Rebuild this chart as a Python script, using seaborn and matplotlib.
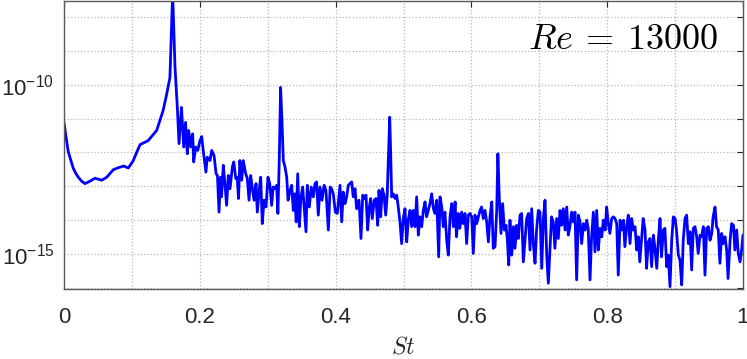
import numpy as np
import pandas as pd
import seaborn as sns
import matplotlib.pyplot as plt
from matplotlib.ticker import LogLocator, FuncFormatter, MultipleLocator, NullLocator

# Strouhal number and log10 of the spectrum
st = [
    0.0, 0.003, 0.0064, 0.0137, 0.0175, 0.021, 0.026, 0.031, 0.038, 0.0457, 0.0555, 0.063,
    0.0726, 0.080, 0.088, 0.0947, 0.102, 0.107, 0.112, 0.124, 0.1365, 0.146, 0.151, 0.156,
    0.160, 0.1635, 0.1669, 0.1694, 0.173, 0.1763, 0.179, 0.1816, 0.1836, 0.1866, 0.1895,
    0.191, 0.194, 0.197,
    0.2003, 0.2028, 0.205, 0.209, 0.211, 0.215, 0.2175, 0.221, 0.224, 0.226, 0.2283, 0.2307,
    0.232, 0.2346, 0.237, 0.2395, 0.242, 0.2445, 0.248, 0.250, 0.253, 0.255, 0.257, 0.259,
    0.2617, 0.264, 0.2676, 0.270, 0.2725, 0.275, 0.2774, 0.280, 0.2828, 0.2847, 0.2877,
    0.2897, 0.292, 0.2946, 0.2975, 0.3004, 0.303, 0.3058, 0.308, 0.311, 0.3132, 0.315,
    0.317, 0.319, 0.321, 0.323, 0.3255, 0.328, 0.330, 0.333, 0.3353, 0.3377, 0.3397, 0.342,
    0.3442, 0.3466, 0.349, 0.3515, 0.354, 0.3564, 0.3583, 0.3613, 0.3642, 0.3672, 0.3697,
    0.372, 0.3745, 0.377, 0.380, 0.383, 0.3858, 0.3893, 0.392, 0.394, 0.3966, 0.3996, 0.4025,
    0.4065, 0.409, 0.4113, 0.4138, 0.4163, 0.4187, 0.421, 0.4237, 0.426, 0.4286, 0.431,
    0.4345, 0.4374, 0.44, 0.4423, 0.4448, 0.4472, 0.4497, 0.4517, 0.454, 0.457, 0.4595,
    0.462, 0.4639, 0.4664, 0.4688, 0.4713, 0.4738, 0.476, 0.478, 0.4797, 0.481, 0.4826,
    0.485, 0.4875, 0.490, 0.4923, 0.4948, 0.4973, 0.4997, 0.5022, 0.5047, 0.507, 0.5096,
    0.512, 0.5144, 0.517, 0.5194, 0.5218, 0.5243, 0.5268, 0.5292, 0.5317, 0.534, 0.5365,
    0.539, 0.5415, 0.544, 0.5464, 0.549, 0.5518, 0.5538, 0.5563, 0.5586, 0.561, 0.5636,
    0.566, 0.5685, 0.571, 0.5734, 0.576, 0.578, 0.5807, 0.583, 0.5857, 0.588, 0.5906,
    0.593, 0.5955, 0.598, 0.6005, 0.6028, 0.6053, 0.6078,
    0.6127, 0.615, 0.6175, 0.62, 0.6225, 0.625, 0.6274, 0.630, 0.6322, 0.6348, 0.6373,
    0.639, 0.641, 0.6436, 0.646, 0.6485, 0.651, 0.653, 0.655, 0.6568, 0.6594, 0.662,
    0.6642, 0.6667, 0.669, 0.6716, 0.674, 0.6765, 0.679, 0.6814, 0.684, 0.6863, 0.6888,
    0.6912, 0.6937, 0.696, 0.6986, 0.701, 0.7036, 0.706, 0.7084, 0.711, 0.7133, 0.7158,
    0.718, 0.7206, 0.723, 0.7256, 0.728, 0.7305, 0.733, 0.7354, 0.738, 0.7404, 0.7427,
    0.745, 0.7477, 0.750, 0.7526, 0.755, 0.7575, 0.760, 0.7624, 0.765, 0.7673, 0.7698,
    0.772, 0.7747, 0.777, 0.7796, 0.782, 0.7845, 0.787, 0.7894, 0.792, 0.7943, 0.797,
    0.7992, 0.8016, 0.804, 0.8066, 0.809,
    0.8115, 0.814, 0.8163, 0.819, 0.8213, 0.824, 0.826, 0.8287, 0.831, 0.8336, 0.836,
    0.8385, 0.841, 0.8434, 0.846, 0.848, 0.8508, 0.853, 0.8557, 0.858, 0.8605, 0.863,
    0.8655, 0.868, 0.8704, 0.873, 0.8753, 0.8778, 0.880, 0.8827, 0.885, 0.8876, 0.890,
    0.8925, 0.895, 0.8974, 0.900, 0.902, 0.9048, 0.9072, 0.9097, 0.912, 0.9146, 0.917,
    0.9195, 0.922, 0.9244, 0.9268, 0.9293, 0.9318, 0.934, 0.9367, 0.939, 0.9416, 0.944,
    0.9465, 0.949, 0.9514, 0.954, 0.956, 0.9588, 0.961, 0.9636, 0.966, 0.9686, 0.971,
    0.9735, 0.976, 0.978, 0.981, 0.9833, 0.986, 0.988, 0.9907, 0.993, 0.9956, 0.998, 1.0,
]
log_psd = [
    -11.12, -11.55, -11.99, -12.47, -12.62, -12.73, -12.85, -12.92, -12.85, -12.76, -12.82, -12.73,
    -12.51, -12.45, -12.40, -12.46, -12.24, -12.0, -11.77, -11.65, -11.35, -10.76, -10.3, -9.79,
    -7.3, -9.49, -10.67, -11.74, -10.67, -11.84, -11.11, -12.04, -11.35, -11.84, -11.45,
    -12.28, -11.84, -11.94,
    -11.65, -11.53, -11.94, -12.58, -12.14, -12.24, -11.94, -12.09, -12.63, -12.68, -13.76, -12.73,
    -13.31, -12.38, -12.92, -13.56, -12.68, -13.07, -12.43, -12.28, -12.77, -12.73, -13.36, -12.24,
    -12.82, -12.24, -12.63, -12.77, -13.41, -12.68, -13.07, -13.41, -12.92, -13.76, -13.07,
    -12.73, -14.1, -13.41, -13.61, -12.73, -12.92, -13.56, -13.02, -13.07, -12.97, -13.8,
    -12.24, -10.08, -11.06, -12.24, -12.43, -12.73, -13.41, -13.12, -12.97, -13.71, -13.22, -14.05,
    -12.63, -14.19, -13.31, -13.02, -13.71, -14.34, -12.97, -13.61, -13.02, -13.31, -12.92,
    -12.87, -13.85, -13.02, -13.41, -12.97, -13.12, -14.29, -13.02, -13.07, -13.22, -13.76, -13.8,
    -12.97, -14.05, -13.17, -13.51, -13.31, -12.97, -12.92, -12.87, -13.31, -13.07, -13.66,
    -13.41, -14.54, -13.26, -13.36, -13.26, -14.29, -13.61, -13.36, -13.95, -13.41, -13.36,
    -14.15, -13.12, -13.9, -13.07, -13.26, -13.85, -13.26, -12.04, -10.96, -11.94, -13.31,
    -13.22, -13.36, -13.26, -13.61, -14.05, -14.69, -13.95, -13.66, -14.64, -14.0, -13.71,
    -14.19, -13.71, -14.19, -13.31, -14.44, -13.9, -14.19, -13.71, -13.46, -13.9, -13.71,
    -13.51, -13.22, -13.66, -13.8, -13.41, -15.08, -13.31, -13.61, -14.19, -13.76, -14.59,
    -15.03, -13.9, -13.51, -14.19, -13.46, -14.49, -13.8, -14.24, -13.76, -14.1, -13.8,
    -14.69, -13.85, -13.8, -13.9, -14.98, -13.85, -14.1,
    -13.71, -13.61, -13.95, -13.71, -14.05, -14.64, -13.9, -13.46, -14.83, -14.78, -13.71,
    -12.04, -13.31, -14.39, -13.51, -14.29, -14.15, -14.59, -15.32, -14.0, -15.03, -14.19,
    -14.83, -14.15, -14.54, -13.85, -13.8, -15.23, -14.59, -13.95, -13.8, -14.88, -13.66,
    -14.69, -15.27, -14.29, -13.71, -13.76, -15.42, -13.95, -13.41, -15.08, -15.86, -14.83,
    -13.9, -14.05, -14.83, -13.95, -14.54, -13.71, -14.15, -13.66, -14.29, -13.61, -14.44,
    -14.19, -13.76, -14.05, -13.76, -15.76, -13.85, -14.05, -14.69, -14.1, -14.29, -14.0,
    -14.24, -15.76, -14.49, -13.76, -14.93, -13.71, -14.88, -14.24, -14.49, -14.0, -14.29,
    -13.61, -14.1, -14.39, -13.95, -13.9,
    -13.95, -14.1, -15.62, -14.0, -14.29, -14.0, -14.78, -14.19, -13.85, -14.69, -13.95,
    -14.29, -14.19, -14.88, -14.49, -15.23, -14.49, -13.95, -14.29, -15.42, -14.64, -14.54,
    -15.37, -14.44, -14.83, -15.42, -14.59, -13.95, -15.08, -14.29, -14.24, -15.37, -15.03,
    -15.96, -14.59, -13.9, -13.95, -14.29, -15.03, -15.18, -15.91, -14.59, -13.95, -13.85,
    -14.69, -14.34, -15.47, -14.24, -14.19, -14.49, -14.98, -14.44, -14.49, -14.19, -15.62,
    -14.24, -14.19, -14.59, -14.39, -13.9, -13.61, -14.19, -14.29, -15.27, -14.39, -14.69,
    -14.49, -14.88, -15.72, -14.59, -14.1, -14.15, -14.88, -14.29, -14.98, -15.23, -14.88, -14.44,
]

x_ticks = [0, 0.2, 0.4, 0.6, 0.8, 1]
x_tick_labels = ['0', '0.2', '0.4', '0.6', '0.8', '1']
labelled_decades = [-10, -15]

df = pd.DataFrame({'St': st, 'PSD': np.power(10.0, log_psd)})

sns.set_style('white')
plt.rcParams['font.family'] = ['Liberation Sans', 'DejaVu Sans']
plt.rcParams['mathtext.fontset'] = 'custom'
plt.rcParams['mathtext.rm'] = 'Liberation Sans'
plt.rcParams['mathtext.it'] = 'Liberation Sans:italic'

fig = plt.figure(figsize=(7.47, 3.59), dpi=100)
ax = fig.add_axes([64 / 747, 1 - 289 / 359, 679 / 747, 288 / 359])

sns.lineplot(data=df, x='St', y='PSD', color='#0000ff', linewidth=2.0,
             estimator=None, sort=False, ax=ax)

ax.set_yscale('log')
ax.set_xlim(0, 1)
ax.set_ylim(10 ** -16.03, 10 ** -7.53)

ax.set_xticks(x_ticks)
ax.set_xticklabels(x_tick_labels)
ax.xaxis.set_minor_locator(MultipleLocator(0.1))
ax.yaxis.set_major_locator(LogLocator(base=10, numticks=30))
ax.yaxis.set_minor_locator(NullLocator())
ax.yaxis.set_major_formatter(FuncFormatter(
    lambda v, p: f'$\\mathregular{{10^{{{int(round(np.log10(v)))}}}}}$'
    if int(round(np.log10(v))) in labelled_decades else ''))

ax.grid(True, which='both', linestyle=':', color='#b8b8b8', linewidth=0.9)
ax.tick_params(axis='both', which='major', direction='in', top=True, right=True,
               length=4, width=0.8, color='#262626', labelcolor='#262626')
ax.tick_params(axis='x', which='major', pad=13, labelsize=16)
ax.tick_params(axis='y', which='major', pad=7, labelsize=16)
ax.tick_params(axis='x', which='minor', length=0)
for sp in ax.spines.values():
    sp.set_color('#5a5a5a')
    sp.set_linewidth(1.0)

ax.set_xlabel(r'$St$', fontsize=17, math_fontfamily='cm', color='#262626')
ax.xaxis.set_label_coords(0.5, -0.165)
ax.set_ylabel('')
ax.text(0.963, 0.865, r'$Re\:=\:13000$', transform=ax.transAxes, ha='right', va='center',
        fontsize=26, math_fontfamily='cm', color='black')

fig.savefig('out.png', dpi=100)
